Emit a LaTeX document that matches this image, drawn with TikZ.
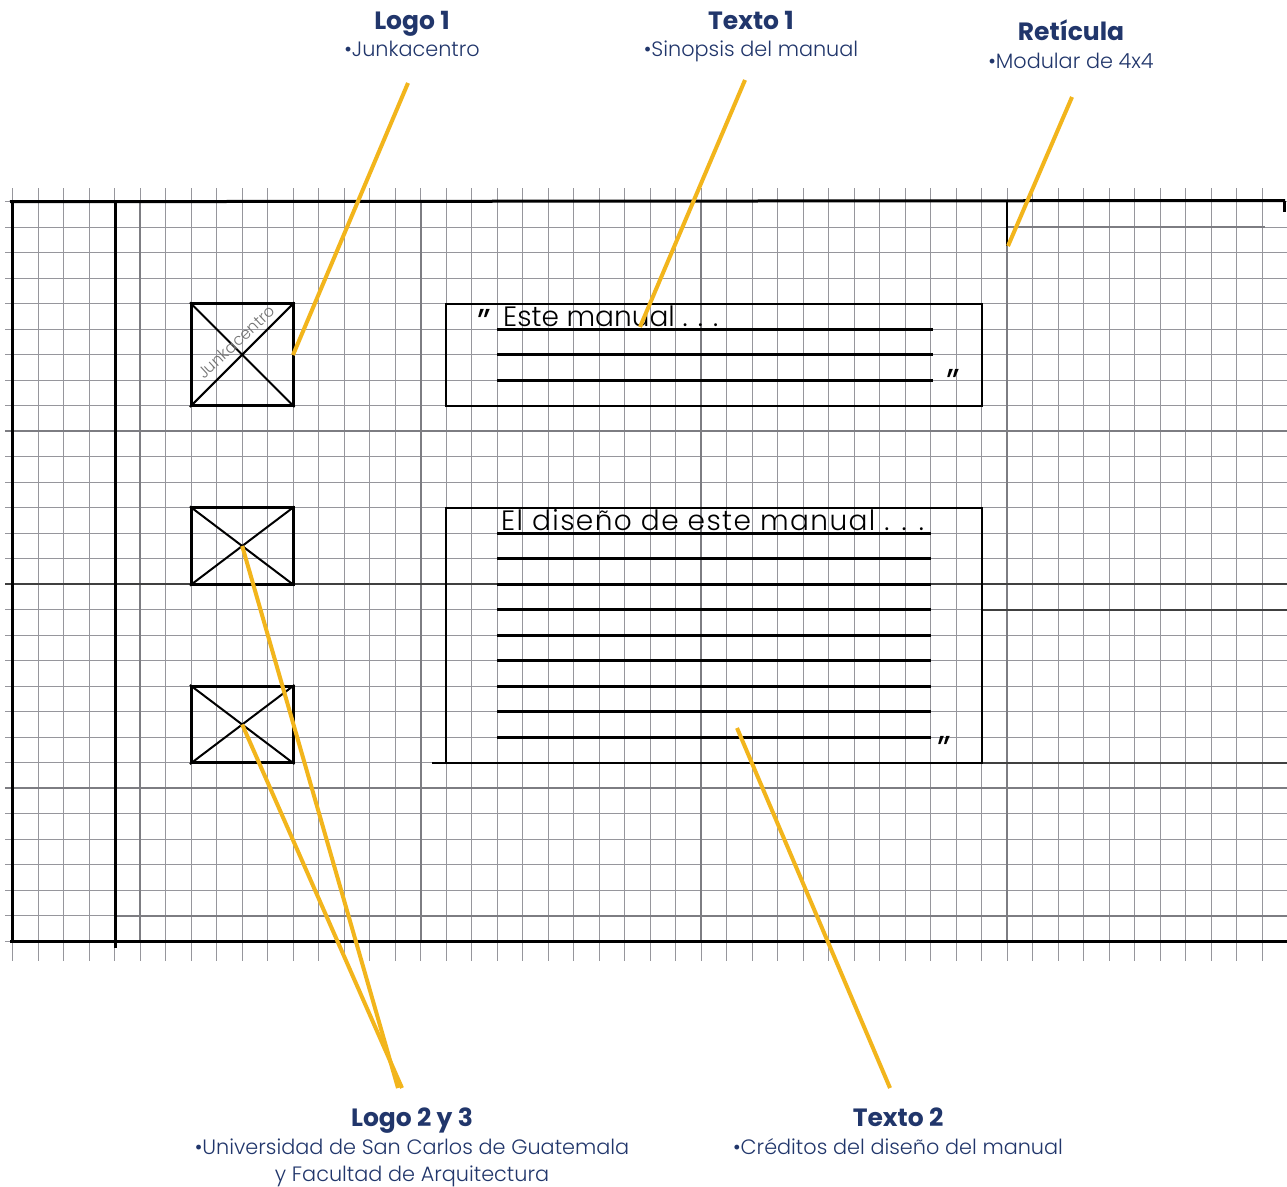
\documentclass[tikz,border=0pt]{standalone}
\usepackage{fontspec}
\setmainfont{Poppins}
\newfontfamily\popl{Poppins Light}
\newfontfamily\hand{Poppins Light}
\newfontfamily\handwide{Poppins Light}[LetterSpace=5]
\definecolor{navy}{RGB}{33,54,107}
\definecolor{gridc}{RGB}{150,150,156}
\definecolor{gridd}{RGB}{125,125,130}
\definecolor{lead}{RGB}{242,181,28}
\tikzset{
  gridline/.style={draw=gridc, line width=1.1pt},
  modline/.style={draw=gridd, line width=1.8pt},
  frameline/.style={draw=black, line width=3pt},
  boxline/.style={draw=black, line width=2.4pt},
  textline/.style={draw=black, line width=2.6pt},
  leader/.style={draw=lead, line width=4pt},
  title/.style={font=\fontsize{25}{28}\selectfont\bfseries, text=navy, inner sep=0pt, anchor=base},
  sub/.style={font=\popl\fontsize{20.8}{23}\selectfont, text=navy, inner sep=0pt, anchor=base},
  logobox/.style={draw=black, line width=2.6pt, inner sep=0pt},
  handtext/.style={font=\hand\fontsize{28}{30}\selectfont, text=black, inner sep=0pt, anchor=base west},
  quote/.style={font=\fontsize{36}{38}\selectfont, text=black, inner sep=0pt}
}
\begin{document}
\begin{tikzpicture}[x=1pt,y=-1pt]
\useasboundingbox[fill=white] (0,0) rectangle (1287,1186);
% grid paper
\foreach \i in {0,...,50} \draw[gridline] ({12.7+25.5*\i},188) -- ({12.7+25.5*\i},961);
\foreach \j in {0,...,29} \draw[gridline] (5,{201.7+25.5*\j}) -- (1287,{201.7+25.5*\j});
% module (4x4) lines
\foreach \i in {5,16,27,39} \draw[modline] ({12.7+25.5*\i},201.7) -- ({12.7+25.5*\i},941.7);
\draw[modline] (1007.2,227.2) -- (1265,227.2);
\draw[modline] (5,431.2) -- (1287,431.2);
\draw[modline] (5,788.2) -- (1287,788.2);
\draw[modline] (115,915.7) -- (1287,915.7);
\draw[draw=black!75, line width=1.6pt] (5,584.2) -- (1287,584.2);
\draw[draw=black!75, line width=1.6pt] (982,609.7) -- (1287,609.7);
\draw[draw=black!75, line width=1.6pt] (982,762.7) -- (1287,762.7);
% frame
\draw[frameline] (10,201.7) -- (1285,200.5);
\draw[frameline] (1284,200.5) -- (1284,212);
\draw[frameline] (12.7,201.7) -- (12.7,941.7);
\draw[frameline] (115,201.7) -- (115,948);
\draw[frameline] (10,941.7) -- (1287,941.7);
\draw[draw=black, line width=2.2pt] (1007.2,201.7) -- (1007.2,246);
% logo boxes
\node[logobox, minimum width=102, minimum height=102] (l1) at (242.2,354.7) {};
\node[logobox, minimum width=102, minimum height=76.5] (l2) at (242.2,546) {};
\node[logobox, minimum width=102, minimum height=76.5] (l3) at (242.2,724.5) {};
\foreach \b in {l1,l2,l3} {
  \draw[draw=black, line width=2pt] (\b.north west) -- (\b.south east);
  \draw[draw=black, line width=2pt] (\b.south west) -- (\b.north east);
}
\node[font=\hand\fontsize{16}{18}\selectfont, text=black!55, rotate=43, inner sep=0pt] (jk) at (236,342) {Junkacentro};
% text box 1
\node[boxline, minimum width=535.5, minimum height=102, inner sep=0pt] (t1) at (714,354.7) {};
\foreach \y in {329.2,354.7,380.2} \draw[textline] (497.2,\y) -- (933,\y);
\node[quote] (t1q) at (484,322) {"};
\node[handtext] (t1a) at (503,326) {Este manual . . .};
\node[quote] (t1e) at (953,382) {"};
% text box 2
\node[boxline, minimum width=535.5, minimum height=255, inner sep=0pt] (t2) at (714,635.2) {};
\draw[boxline] (432,762.7) -- (446,762.7);
\foreach \k in {0,...,8} \draw[textline] (497.2,{533.2+25.5*\k}) -- (931,{533.2+25.5*\k});
\node[handtext, font=\handwide\fontsize{28}{30}\selectfont] (t2a) at (501,530) {El diseño de este manual . . .};
\node[quote] (t2e) at (944,749) {"};
% labels
\node[title] (lab1) at (412,29) {Logo 1};
\node[sub] (lab1s) at (412,56) {•Junkacentro};
\node[title] (lab2) at (751,29) {Texto 1};
\node[sub] (lab2s) at (751,56) {•Sinopsis del manual};
\node[title] (lab3) at (1071,40) {Retícula};
\node[sub] (lab3s) at (1071,68) {•Modular de 4x4};
\node[title] (lab4) at (412,1126) {Logo 2 y 3};
\node[sub] (lab4s) at (412,1154) {•Universidad de San Carlos de Guatemala};
\node[sub] (lab4t) at (412,1181) {y Facultad de Arquitectura};
\node[title] (lab5) at (898,1126) {Texto 2};
\node[sub] (lab5s) at (898,1154) {•Créditos del diseño del manual};
% leader ends
\coordinate (c1) at (408,83);
\coordinate (c1e) at (293,355);
\coordinate (c2) at (745,80);
\coordinate (c2e) at (640,327);
\coordinate (c3) at (1072,97);
\coordinate (c3e) at (1008,246);
\coordinate (c4) at (398,1088);
\coordinate (c4b) at (402,1088);
\coordinate (c5) at (890,1088);
\coordinate (c5e) at (737,728);
\draw[leader] (c1) -- (c1e);
\draw[leader] (c2) -- (c2e);
\draw[leader] (c3) -- (c3e);
\draw[leader] (c4) -- (l2.center);
\draw[leader] (c4b) -- (l3.center);
\draw[leader] (c5) -- (c5e);
\end{tikzpicture}
\end{document}
